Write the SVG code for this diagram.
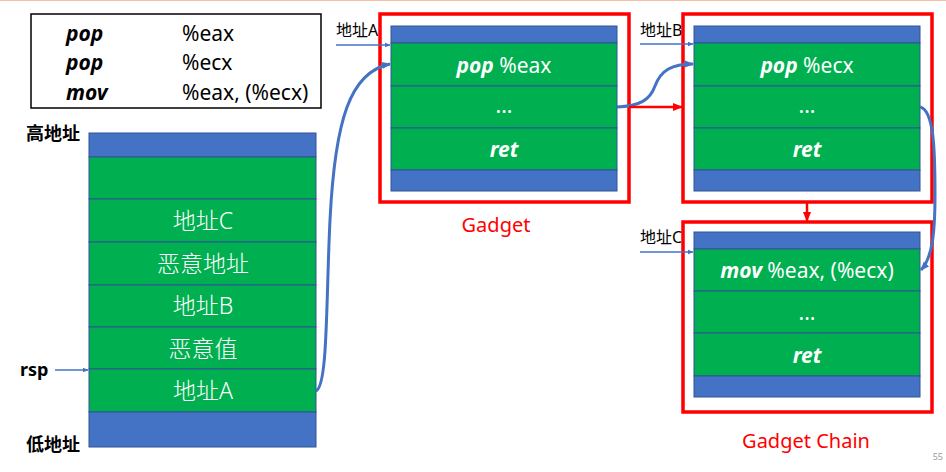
<svg xmlns="http://www.w3.org/2000/svg" width="946" height="472" viewBox="0 0 946 472">
<defs>
<style>
.t{font-family:"Noto Sans","Noto Sans CJK SC",sans-serif}
.blue{fill:#4472c4;stroke:#2f5597;stroke-width:1}
.green{fill:#00b050;stroke:#2f5597;stroke-width:1}
.redbox{fill:none;stroke:#ff0000;stroke-width:3.5}
.w{fill:#ffffff;font-size:21px;text-anchor:middle}
.s{fill:#ffffff;font-size:23px;text-anchor:middle;font-weight:300}
.bi{font-weight:bold;font-style:italic}
.lbl{fill:#000;font-size:16px}
.conn{fill:none;stroke:#4472c4}
</style>
<marker id="ab" viewBox="0 0 10 10" refX="9" refY="5" markerWidth="6" markerHeight="6" orient="auto" markerUnits="userSpaceOnUse"><path d="M0,1 L10,5 L0,9 z" fill="#4472c4"/></marker>
<marker id="abL" viewBox="0 0 10 10" refX="9" refY="5" markerWidth="9" markerHeight="9" orient="auto" markerUnits="userSpaceOnUse"><path d="M0,1 L10,5 L0,9 z" fill="#4472c4"/></marker>
<marker id="ar" viewBox="0 0 10 10" refX="9" refY="5" markerWidth="10" markerHeight="10" orient="auto" markerUnits="userSpaceOnUse"><path d="M0,1 L10,5 L0,9 z" fill="#ff0000"/></marker>
</defs>
<rect x="0" y="0" width="946" height="472" fill="#ffffff"/>
<line x1="0" y1="0.5" x2="946" y2="0.5" stroke="#f4c0a8" stroke-width="1"/>

<g id="legend">
<rect x="31" y="14" width="290" height="94" fill="#ffffff" stroke="#000" stroke-width="1.5"/>
<text class="t" x="66" y="41" font-size="21" font-weight="bold" font-style="italic">pop</text>
<text class="t" x="182" y="41" font-size="21">%eax</text>
<text class="t" x="66" y="70" font-size="21" font-weight="bold" font-style="italic">pop</text>
<text class="t" x="182" y="70" font-size="21">%ecx</text>
<text class="t" x="66" y="100" font-size="21" font-weight="bold" font-style="italic">mov</text>
<text class="t" x="182" y="100" font-size="21">%eax, (%ecx)</text>
</g>

<g id="stack">
<rect class="blue" x="89" y="133" width="227" height="24"/>
<rect class="green" x="89" y="157" width="227" height="42"/>
<rect class="green" x="89" y="199" width="227" height="43"/>
<rect class="green" x="89" y="242" width="227" height="43"/>
<rect class="green" x="89" y="285" width="227" height="42"/>
<rect class="green" x="89" y="327" width="227" height="42"/>
<rect class="green" x="89" y="369" width="227" height="43"/>
<rect class="blue" x="89" y="412" width="227" height="35"/>
<text class="t s" x="203" y="229">地址C</text>
<text class="t s" x="203" y="272">恶意地址</text>
<text class="t s" x="203" y="314">地址B</text>
<text class="t s" x="203" y="357">恶意值</text>
<text class="t s" x="203" y="399">地址A</text>
<text class="t" x="26" y="140" font-size="18" font-weight="bold">高地址</text>
<text class="t" x="26" y="451" font-size="18" font-weight="bold">低地址</text>
<text class="t" x="20" y="376" font-size="18" font-weight="bold">rsp</text>
</g>

<g id="gadget1">
<text class="t lbl" x="336" y="36">地址A</text>
<rect class="blue" x="391" y="26" width="226" height="17"/>
<rect class="green" x="391" y="43" width="226" height="43"/>
<rect class="green" x="391" y="86" width="226" height="42"/>
<rect class="green" x="391" y="128" width="226" height="42"/>
<rect class="blue" x="391" y="170" width="226" height="21"/>
<text class="t w" x="504" y="73"><tspan class="bi">pop</tspan> %eax</text>
<text class="t w" x="504" y="113">...</text>
<text class="t w bi" x="504" y="157">ret</text>
<rect class="redbox" x="380" y="14" width="249" height="188"/>
<text class="t" x="496" y="232" font-size="20" fill="#ff0000" text-anchor="middle">Gadget</text>
</g>

<g id="gadget2">
<text class="t lbl" x="640" y="36">地址B</text>
<rect class="blue" x="694" y="26" width="226" height="17"/>
<rect class="green" x="694" y="43" width="226" height="43"/>
<rect class="green" x="694" y="86" width="226" height="42"/>
<rect class="green" x="694" y="128" width="226" height="42"/>
<rect class="blue" x="694" y="170" width="226" height="21"/>
<text class="t w" x="807" y="73"><tspan class="bi">pop</tspan> %ecx</text>
<text class="t w" x="807" y="113">...</text>
<text class="t w bi" x="807" y="157">ret</text>
<rect class="redbox" x="683" y="14" width="249" height="188"/>
</g>

<g id="gadget3">
<text class="t lbl" x="640" y="243">地址C</text>
<rect class="blue" x="694" y="232" width="226" height="17"/>
<rect class="green" x="694" y="249" width="226" height="42"/>
<rect class="green" x="694" y="291" width="226" height="42"/>
<rect class="green" x="694" y="333" width="226" height="43"/>
<rect class="blue" x="694" y="376" width="226" height="21"/>
<text class="t w" x="807" y="278"><tspan class="bi">mov</tspan> %eax, (%ecx)</text>
<text class="t w" x="807" y="320">...</text>
<text class="t w bi" x="807" y="363">ret</text>
<rect class="redbox" x="683" y="222" width="249" height="190"/>
<text class="t" x="806" y="448" font-size="20" fill="#ff0000" text-anchor="middle">Gadget Chain</text>
</g>

<text class="t" x="943" y="460" font-size="9" fill="#999999" text-anchor="end">55</text>

<g id="connectors">
<line class="conn" x1="55" y1="370" x2="88" y2="370" stroke-width="1.5" marker-end="url(#ab)"/>
<line class="conn" x1="336" y1="45" x2="390" y2="45" stroke-width="1.5" marker-end="url(#ab)"/>
<line class="conn" x1="640" y1="44" x2="693" y2="44" stroke-width="1.5" marker-end="url(#ab)"/>
<line class="conn" x1="640" y1="252" x2="693" y2="252" stroke-width="1.5" marker-end="url(#ab)"/>
<path class="conn" d="M316,391 C328,386 326,300 330,220 C335,120 350,72 390,64" stroke-width="3" marker-end="url(#abL)"/>
<path class="conn" d="M617,107 C640,106 650,100 655,86 C661,70 672,64 693,64" stroke-width="3" marker-end="url(#abL)"/>
<path class="conn" d="M920,107 C934,110 935,150 935,195 C935,235 932,258 921,270" stroke-width="3" marker-end="url(#abL)"/>
<line x1="629" y1="107" x2="682" y2="107" stroke="#ff0000" stroke-width="2.5" marker-end="url(#ar)"/>
<line x1="807" y1="203" x2="807" y2="221" stroke="#ff0000" stroke-width="2.5" marker-end="url(#ar)"/>
</g>
</svg>
